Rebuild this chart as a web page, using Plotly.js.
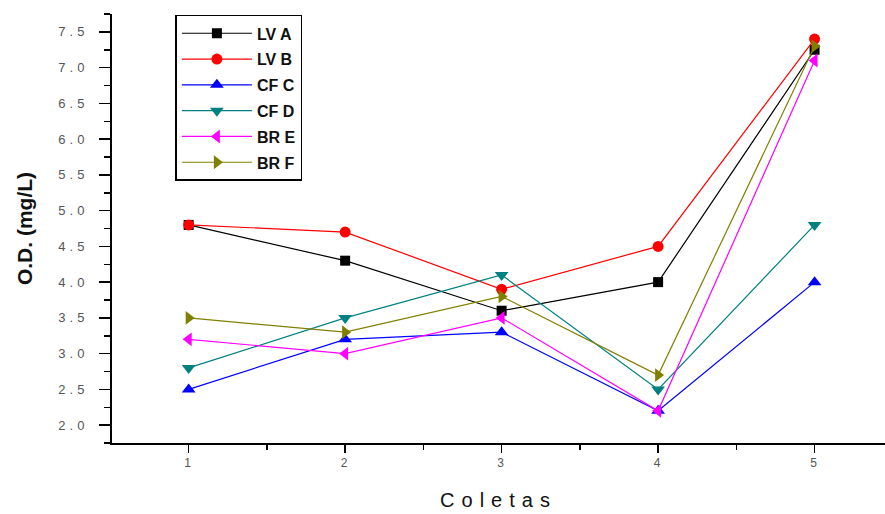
<!DOCTYPE html>
<html>
<head>
<meta charset="utf-8">
<script src="https://cdn.plot.ly/plotly-3.0.1.min.js"></script>
<style>body{margin:0;padding:0;background:#fff;} #chart{width:885px;height:514px;}</style>
</head>
<body>
<div id="chart"></div>
<script>
const coletas = [1, 2, 3, 4, 5];
const seriesNames = ["LV A", "LV B", "CF C", "CF D", "BR E", "BR F"];
const lvA = [4.8, 4.3, 3.6, 4.0, 7.25];
const lvB = [4.8, 4.7, 3.9, 4.5, 7.4];
const cfC = [2.5, 3.2, 3.3, 2.2, 4.0];
const cfD = [2.8, 3.5, 4.1, 2.5, 4.8];
const brE = [3.2, 3.0, 3.5, 2.2, 7.1];
const brF = [3.5, 3.3, 3.8, 2.7, 7.3];
const yTickVals = [2.0, 2.5, 3.0, 3.5, 4.0, 4.5, 5.0, 5.5, 6.0, 6.5, 7.0, 7.5];

const values = [lvA, lvB, cfC, cfD, brE, brF];
const colors = ["#000000", "#FF0000", "#0000FF", "#008080", "#FF00FF", "#808000"];
const symbols = ["square", "circle", "triangle-up", "triangle-down", "triangle-left", "triangle-right"];
const sizes = [10, 11, 12, 12, 12, 12];

const traces = seriesNames.map((n, i) => ({
  x: coletas, y: values[i], name: n, type: "scatter", mode: "lines+markers",
  legendgroup: "g" + i,
  line: {color: colors[i], width: 1.2},
  marker: {symbol: symbols[i], size: sizes[i], color: colors[i]}
}));

const layout = {
  width: 885, height: 514,
  margin: {l: 112, r: 0, t: 14, b: 71},
  paper_bgcolor: "#fff", plot_bgcolor: "#fff",
  font: {family: "Liberation Sans, Arial, sans-serif"},
  showlegend: true,
  legend: {
    x: 0.082, y: 0.998, xanchor: "left", yanchor: "top",
    bordercolor: "#000", borderwidth: 1.5, bgcolor: "#fff",
    font: {size: 16, color: "#111", family: "Liberation Sans, Arial, sans-serif", weight: "bold"},
    traceorder: "grouped", tracegroupgap: 2, itemwidth: 70
  },
  xaxis: {
    range: [0.51, 5.45], tickvals: coletas, ticktext: coletas.map(String),
    showgrid: false, zeroline: false, showline: true, linecolor: "#000", linewidth: 2,
    ticks: "outside", ticklen: 8, tickwidth: 1.5, tickcolor: "#000",
    tickfont: {size: 12, color: "#555"},
    minor: {dtick: 0.5, tick0: 0.5, ticks: "outside", ticklen: 5, tickwidth: 1.5, tickcolor: "#000"},
    title: {text: "Coletas", font: {size: 20, color: "#111"}, standoff: 24}
  },
  yaxis: {
    range: [1.75, 7.75], tickvals: yTickVals, tickformat: ".1f",
    showgrid: false, zeroline: false, showline: true, linecolor: "#000", linewidth: 2,
    ticks: "outside", ticklen: 11, tickwidth: 1.5, tickcolor: "#000",
    tickfont: {size: 13, color: "#555"}, ticklabelstandoff: 8,
    minor: {dtick: 0.25, tick0: 1.75, ticks: "outside", ticklen: 6, tickwidth: 1.5, tickcolor: "#000"},
    title: {text: "O.D. (mg/L)", font: {size: 21, color: "#111", weight: "bold"}, standoff: 32}
  }
};

Plotly.newPlot("chart", traces, layout, {displayModeBar: false, staticPlot: true}).then(() => {
  const xt = document.querySelector(".xtitle");
  if (xt) xt.style.letterSpacing = "7px";
  document.querySelectorAll(".ytick text").forEach(t => t.style.letterSpacing = "4px");
  document.querySelectorAll(".xtick text").forEach(t => t.style.letterSpacing = "2px");
});
</script>
</body>
</html>
